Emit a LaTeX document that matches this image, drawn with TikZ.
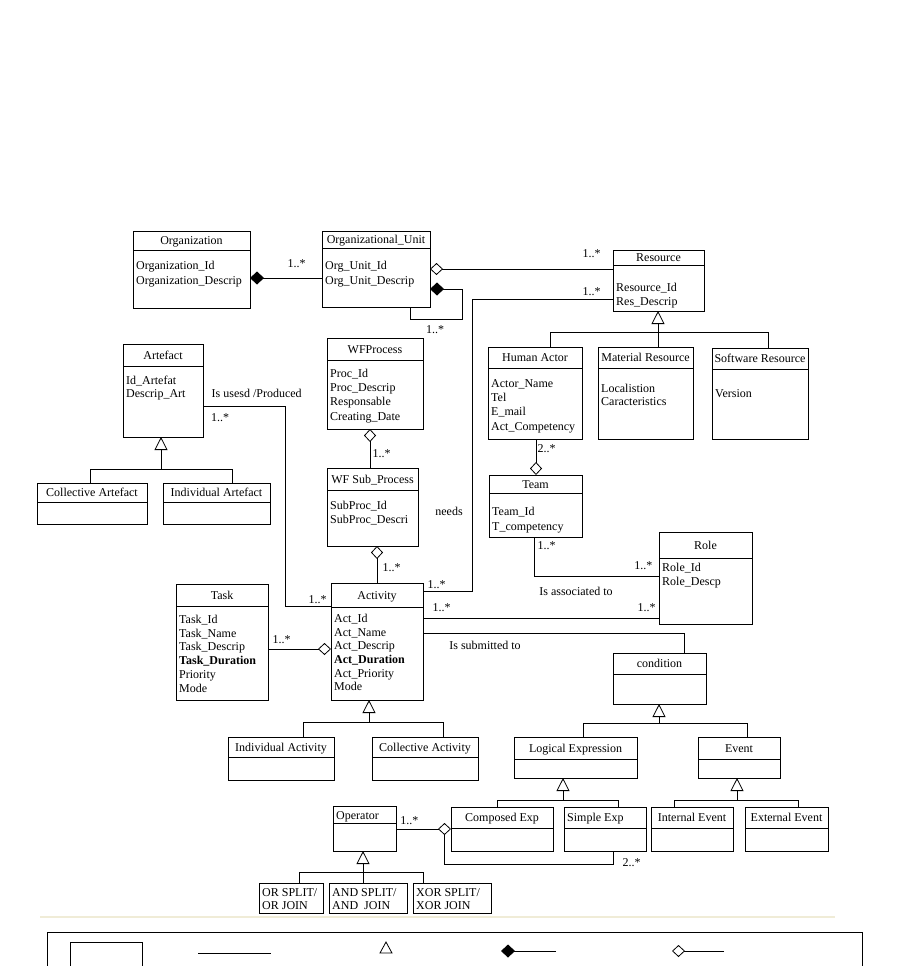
\documentclass[tikz,border=0pt]{standalone}
\usepackage{fontspec}
\setmainfont{Liberation Serif}
\usetikzlibrary{arrows.meta,calc}
\newcommand{\umlclass}[7]{%
  \node[cls, minimum width=#4pt, minimum height=#5pt] (#1) at (#2,#3) {};
  \draw[conn] ($(#1.north west)+(0,#6)$) -- ($(#1.north east)+(0,#6)$);
  \node[ttl] (#1-t) at ($(#1.north)+(0,{#6/2+4})$) {#7};
}
\newcommand{\umlattrs}[4]{%
  \foreach \attrtext [count=\i] in {#4} {%
    \node[attr] (#1-a\i) at ($(#1.north west)+(3,{#2+(\i-1)*#3})$) {\attrtext};}%
}
\begin{document}
\begin{tikzpicture}[x=1pt,y=-1pt,
  font=\fontsize{12}{14}\selectfont,
  cls/.style={draw, line width=0.8pt, rectangle, inner sep=0pt, outer sep=0pt, anchor=north west},
  ttl/.style={anchor=base, inner sep=0pt},
  attr/.style={anchor=base west, inner sep=0pt},
  lbl/.style={inner sep=0pt, anchor=center},
  conn/.style={line width=0.8pt},
  agg/.style={conn, -{Diamond[open, length=13pt, width=12pt]}},
  comp/.style={conn, -{Diamond[length=14pt, width=13pt]}},
  gen/.style={conn, -{Triangle[open, length=13pt, width=13pt]}},
]
\useasboundingbox (0,0) rectangle (901,966);

% ---------- classes ----------
\umlclass{org}{133}{231}{117}{77}{19}{Organization}
\umlattrs{org}{38.5}{15}{Organization\_Id,Organization\_Descrip}
\umlclass{ou}{322}{231}{108}{76}{17}{Organizational\_Unit}
\umlattrs{ou}{38}{15}{Org\_Unit\_Id,Org\_Unit\_Descrip}
\umlclass{res}{613}{250}{91}{61}{15}{Resource}
\umlattrs{res}{41}{14}{Resource\_Id,Res\_Descrip}
\umlclass{art}{123}{344}{80}{93}{22}{Artefact}
\umlattrs{art}{40.7}{13}{Id\_Artefat,Descrip\_Art}
\umlclass{wfp}{327}{338}{96}{91}{22}{WFProcess}
\umlattrs{wfp}{39.3}{14.3}{Proc\_Id,Proc\_Descrip,Responsable,Creating\_Date}
\umlclass{ha}{488}{347}{94}{92}{21}{Human Actor}
\umlattrs{ha}{40.3}{14.3}{Actor\_Name,Tel,E\_mail,Act\_Competency}
\umlclass{mr}{598}{347}{95}{92}{21}{Material Resource}
\umlattrs{mr}{45.3}{13}{Localistion,Caracteristics}
\umlclass{sw}{712}{348}{96}{91}{21}{Software Resource}
\umlattrs{sw}{49.3}{14}{Version}
\umlclass{ca}{37}{483}{110}{41}{19}{Collective Artefact}
\umlclass{ia}{163}{483}{107}{41}{19}{Individual Artefact}
\umlclass{sp}{327}{468}{91}{78}{22}{WF Sub\_Process}
\umlattrs{sp}{41}{14.3}{SubProc\_Id,SubProc\_Descri}
\umlclass{team}{489}{475}{93}{62}{18}{Team}
\umlattrs{team}{40.7}{14.3}{Team\_Id,T\_competency}
\umlclass{role}{659}{532}{93}{92}{26}{Role}
\umlattrs{role}{39.3}{14.3}{Role\_Id,Role\_Descp}
\umlclass{task}{176}{584}{92}{116}{22}{Task}
\umlattrs{task}{39.3}{13.8}{Task\_Id,Task\_Name,Task\_Descrip,{\bfseries Task\_Duration},Priority,Mode}
\umlclass{act}{331}{583}{92}{117}{24}{Activity}
\umlattrs{act}{39.3}{13.7}{Act\_Id,Act\_Name,Act\_Descrip,{\bfseries Act\_Duration},Act\_Priority,Mode}
\umlclass{cond}{613}{653}{93}{51}{21}{condition}
\umlclass{iact}{228}{737}{106}{43}{20}{Individual Activity}
\umlclass{cact}{372}{737}{106}{43}{20}{Collective Activity}
\umlclass{lexp}{514}{737}{123}{41}{22}{Logical Expression}
\umlclass{ev}{698}{737}{82}{41}{22}{Event}
\umlclass{op}{333}{806}{63}{45}{17}{}
\node[attr] (op-title) at ($(op.north west)+(3,13.5)$) {Operator};
\umlclass{cexp}{451}{807}{102}{44}{21}{Composed Exp}
\umlclass{sexp}{564}{807}{82}{44}{21}{}
\node[attr] (sexp-title) at ($(sexp.north west)+(3,14)$) {Simple Exp};
\umlclass{iev}{651}{807}{82}{44}{21}{Internal Event}
\umlclass{eev}{745}{807}{83}{44}{21}{External Event}

\node[cls, minimum width=64pt, minimum height=30pt] (orj) at (259,883) {};
\node[attr] (orj-a1) at ($(orj.north west)+(3,13)$) {OR SPLIT/};
\node[attr] (orj-a2) at ($(orj.north west)+(3,26)$) {OR JOIN};
\node[cls, minimum width=78pt, minimum height=30pt] (andj) at (329,883) {};
\node[attr] (andj-a1) at ($(andj.north west)+(3,13)$) {AND SPLIT/};
\node[attr] (andj-a2) at ($(andj.north west)+(3,26)$) {AND\ \ JOIN};
\node[cls, minimum width=78pt, minimum height=30pt] (xorj) at (413,883) {};
\node[attr] (xorj-a1) at ($(xorj.north west)+(3,13)$) {XOR SPLIT/};
\node[attr] (xorj-a2) at ($(xorj.north west)+(3,26)$) {XOR JOIN};

% ---------- connectors ----------
% Organization -- Organizational_Unit
\draw[comp] ($(ou.north west)+(0,47)$) -- ($(org.north east)+(0,47)$);
\node[lbl] (l1) at (296.7,263.3) {1..*};
% Organizational_Unit -- Resource
\draw[agg] ($(res.north west)+(0,19)$) -- ($(ou.north east)+(0,38)$);
\node[lbl] (l2) at (591.7,254) {1..*};
% self composition
\coordinate (s1) at (462,319);
\draw[comp] ($(ou.south west)+(88,0)$) |- (s1) |- ($(ou.north east)+(0,58)$);
\node[lbl] (l3) at (435,329.3) {1..*};
% needs
\coordinate (n1) at (472,299);
\draw[conn] ($(res.north west)+(0,49)$) -- (n1) |- ($(act.north east)+(0,8.7)$);
\node[lbl] (l4) at (591.7,291.7) {1..*};
\node[lbl] (l5) at (436.7,585) {1..*};
\node[lbl] (l6) at (449,511.7) {needs};
% Resource generalization
\coordinate (rg) at (658,332);
\coordinate (rg1) at (550,332);
\coordinate (rg2) at (768,332);
\draw[gen] (rg) -- (res.south -| rg);
\draw[conn] (ha.north -| rg1) -- (rg1) -- (rg2) -- (sw.north -| rg2);
\draw[conn] (mr.north -| rg) -- (rg);
% Human Actor -- Team
\coordinate (ht) at (536,0);
\draw[agg] (ha.south -| ht) -- (team.north -| ht);
\node[lbl] (l7) at (546.7,448.3) {2..*};
% Team -- Role
\coordinate (tr) at (534.3,576.7);
\draw[conn] (team.south -| tr) |- ($(role.north west)+(0,44.7)$);
\node[lbl] (l8) at (546.7,546) {1..*};
\node[lbl] (l9) at (643.3,566) {1..*};
\node[lbl] (l10) at (576,591) {Is associated to};
% Activity -- Role
\draw[conn] ($(act.north east)+(0,35.3)$) -- ($(role.north west)+(0,86.3)$);
\node[lbl] (l11) at (441.7,607.7) {1..*};
\node[lbl] (l12) at (646.7,607.7) {1..*};
% WFProcess -- WF Sub_Process
\coordinate (ws) at (370,0);
\draw[agg] (sp.north -| ws) -- (wfp.south -| ws);
\node[lbl] (l13) at (381.7,454) {1..*};
% WF Sub_Process -- Activity
\coordinate (sa) at (377,0);
\draw[agg] (act.north -| sa) -- (sp.south -| sa);
\node[lbl] (l14) at (391.7,567.3) {1..*};
% Artefact -- Activity
\coordinate (aa) at (285,406);
\draw[conn] ($(art.north east)+(0,62)$) -- (aa) |- ($(act.north west)+(0,23)$);
\node[lbl] (l15) at (220,417.3) {1..*};
\node[lbl] (l16) at (317.7,599.5) {1..*};
\node[lbl] (l17) at (256.7,393.3) {Is usesd /Produced};
% Artefact generalization
\coordinate (atg) at (161,469);
\coordinate (atg1) at (90,469);
\coordinate (atg2) at (232,469);
\draw[gen] (atg) -- (art.south -| atg);
\draw[conn] (ca.north -| atg1) -- (atg1) -- (atg2) -- (ia.north -| atg2);
% Task -- Activity
\draw[agg] ($(task.north east)+(0,65)$) -- ($(act.north west)+(0,66)$);
\node[lbl] (l18) at (281.7,640) {1..*};
% Activity generalization
\coordinate (ag) at (369,722);
\coordinate (ag1) at (303,722);
\coordinate (ag2) at (443,722);
\draw[gen] (ag) -- (act.south -| ag);
\draw[conn] (iact.north -| ag1) -- (ag1) -- (ag2) -- (cact.north -| ag2);
% Activity -- condition
\coordinate (ac) at (684,633.3);
\draw[conn] ($(act.north east)+(0,50.3)$) -- (ac) -- (cond.north -| ac);
\node[lbl] (l19) at (485,645) {Is submitted to};
% condition generalization
\coordinate (cg) at (659,723);
\coordinate (cg1) at (583,723);
\coordinate (cg2) at (747,723);
\draw[gen] (cg) -- (cond.south -| cg);
\draw[conn] (lexp.north -| cg1) -- (cg1) -- (cg2) -- (ev.north -| cg2);
% Logical Expression generalization
\coordinate (lg) at (563,800);
\coordinate (lg1) at (497,800);
\coordinate (lg2) at (618,800);
\draw[gen] (lg) -- (lexp.south -| lg);
\draw[conn] (cexp.north -| lg1) -- (lg1) -- (lg2) -- (sexp.north -| lg2);
% Event generalization
\coordinate (eg) at (737,800);
\coordinate (eg1) at (674,800);
\coordinate (eg2) at (798,800);
\draw[gen] (eg) -- (ev.south -| eg);
\draw[conn] (iev.north -| eg1) -- (eg1) -- (eg2) -- (eev.north -| eg2);
% Operator generalization
\coordinate (og) at (363,872);
\coordinate (og1) at (299,872);
\coordinate (og2) at (423,872);
\draw[gen] (og) -- (op.south -| og);
\draw[conn] (orj.north -| og1) -- (og1) -- (og2) -- (xorj.north -| og2);
\draw[conn] (andj.north -| og) -- (og);
% Operator -- Composed Exp
\draw[agg] ($(op.north east)+(0,23)$) -- ($(cexp.north west)+(0,22)$);
\coordinate (db) at ($(cexp.north west)+(-6.5,28)$);
\coordinate (ob) at (613,864);
\draw[conn] (db) |- (ob) -- (sexp.south -| ob);
\node[lbl] (l20) at (409.3,820.7) {1..*};
\node[lbl] (l21) at (631.7,862.7) {2..*};

% ---------- separator and legend ----------
\draw[color={rgb,255:red,240;green,236;blue,215}, line width=1.5pt] (40,917) -- (835,917);
\node[cls, minimum width=815pt, minimum height=45pt] (legend) at (47,932) {};
\node[cls, minimum width=72pt, minimum height=30pt] (lgcls) at (70,942) {};
\coordinate (lgl1) at (198,953);
\coordinate (lgl2) at (271,953);
\draw[conn] (lgl1) -- (lgl2);
\coordinate (lgt) at (386,953);
\draw[conn] ($(lgt)+(-6,0)$) -- ($(lgt)+(6,0)$) -- ($(lgt)+(0,-11)$) -- cycle;
\coordinate (lgc1) at (556,951);
\coordinate (lgc2) at (501,951);
\draw[comp] (lgc1) -- (lgc2);
\coordinate (lga1) at (724,951);
\coordinate (lga2) at (672,951);
\draw[agg] (lga1) -- (lga2);
\end{tikzpicture}
\end{document}
